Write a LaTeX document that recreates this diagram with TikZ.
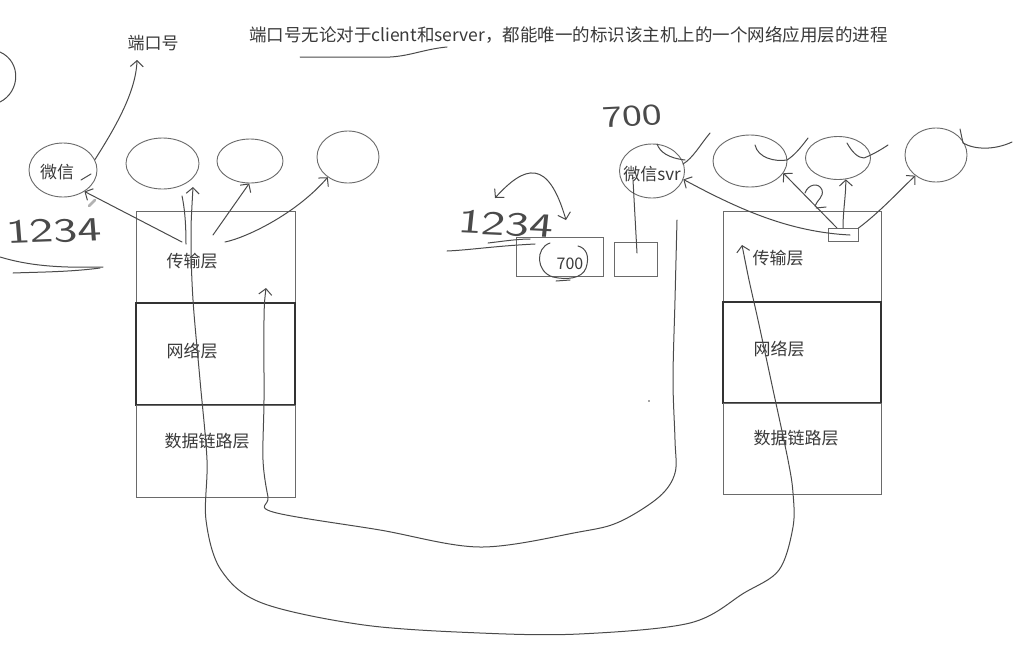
\documentclass[tikz,border=0pt]{standalone}
\usepackage{fontspec}
\setmainfont{Noto Sans CJK SC}
\usetikzlibrary{shapes.geometric,arrows.meta}
\definecolor{txtc}{HTML}{3A3A3A}
\definecolor{linec}{HTML}{4A4A4A}
\definecolor{boxc}{HTML}{6A6A6A}
\definecolor{darkc}{HTML}{333333}
\tikzset{barb/.tip={Straight Barb[length=6pt,width=13pt]}}
\begin{document}
\begin{tikzpicture}[x=1pt,y=-1pt,
  txt/.style={font=\fontsize{17}{20}\selectfont, text=txtc, inner sep=0pt},
  layer/.style={draw=boxc, line width=0.9pt, minimum width=159pt, inner sep=0pt},
  proc/.style={ellipse, draw=boxc, line width=0.9pt, inner sep=0pt},
  hand/.style={draw=linec, line width=1pt, line cap=round, line join=round},
  harrow/.style={hand, -{barb}},
  digits/.style={font=\sffamily\fontsize{34}{34}\selectfont, text=linec, inner sep=0pt}]

\useasboundingbox (0,0) rectangle (1014,659);
\fill[white] (0,0) rectangle (1014,659);

% ---- title ----
\node[txt, font=\fontsize{17.5}{20}\selectfont] (title) at (568.5,35) {端口号无论对于client和server，都能唯一的标识该主机上的一个网络应用层的进程};
\coordinate (ul1) at (300,57);
\coordinate (ul2) at (447,47);
\draw[hand] (ul1) -- (390,57) .. controls (410,56) and (425,49) .. (ul2);

% ---- left host ----
\node[layer, minimum height=92pt] (lT) at (215.5,257) {};
\node[layer, minimum height=102pt, draw=darkc, line width=1.1pt] (lN) at (215.5,354) {};
\node[layer, minimum height=92pt] (lD) at (215.5,451) {};
\node[txt] (lTl) at (192,261) {传输层};
\node[txt] (lNl) at (192,351) {网络层};
\node[txt] (lDl) at (207,441) {数据链路层};

\node[proc, minimum width=68pt, minimum height=54pt] (wx) at (63,170) {};
\node[txt] (wxl) at (57,172) {微信};
\node[proc, minimum width=73pt, minimum height=51pt] (e2) at (162.5,163.5) {};
\node[proc, minimum width=66pt, minimum height=44pt] (e3) at (250,161) {};
\node[proc, minimum width=62pt, minimum height=52pt] (e4) at (348,157) {};

\node[txt] (port) at (153,43) {端口号};
\coordinate (portTip) at (137,60);
\draw[harrow] (wx.18) .. controls (115,128) and (136,92) .. (portTip);
\draw[hand] (81,180) -- (91,174);
\draw[draw=gray!60, line width=2.5pt, line cap=round] (89,206) -- (95,200);

% left transport -> processes
\coordinate (ls1) at (182,242);
\coordinate (ls2) at (186,244);
\coordinate (ls3) at (213,235);
\coordinate (ls4) at (225,242);
\draw[harrow] (ls1) -- (wx.-45);
\draw[hand] (ls2) .. controls (186,220) and (184,205) .. (182,196);
\draw[harrow] (ls3) -- (e3.-92);
\draw[harrow] (ls4) .. controls (245,238) and (295,215) .. (e4.-135);

% left handwritten 1234
\node[digits, xscale=1.5, rotate=3] (n1234a) at (54,231) {1234};
\draw[hand] (0,257) .. controls (30,266) and (60,268) .. (103,267);
\draw[hand] (13,273) .. controls (40,272) and (70,272) .. (100,268);
\draw[hand] (0,52) .. controls (22,62) and (20,92) .. (0,102);

% ---- middle ----
\node[draw=boxc, line width=0.9pt, minimum width=87pt, minimum height=39pt, inner sep=0pt] (b1) at (559.5,256.5) {};
\node[txt, font=\fontsize{16}{18}\selectfont] (b1l) at (570,264) {700};
\node[draw=boxc, line width=0.9pt, minimum width=43pt, minimum height=34pt, inner sep=0pt] (b2) at (635.5,259) {};
\draw[hand] (550,243) .. controls (535,248) and (536,272) .. (553,277) .. controls (566,280) and (582,279) .. (586,268) .. controls (590,256) and (586,248) .. (578,246);
\draw[hand] (556,281) -- (570,280);
\node[digits, xscale=1.5, rotate=-4] (n1234b) at (506,224) {1234};
\draw[hand, {barb}-{barb}] (495,198) .. controls (525,165) and (548,158) .. (566,220);
\draw[hand] (447,251) .. controls (470,250) and (495,246) .. (535,244);
\draw[hand] (488,243) .. controls (505,241) and (518,239) .. (530,239);
\node[digits, font=\sffamily\fontsize{30}{30}\selectfont, xscale=1.4, rotate=4] (n700) at (632,116) {700};
\fill[linec] (649,401) circle (0.8pt);

% ---- right host ----
\node[layer, minimum width=158pt, minimum height=91pt] (rT) at (802,256.5) {};
\node[layer, minimum width=158pt, minimum height=101pt, draw=darkc, line width=1.1pt] (rN) at (802,352.5) {};
\node[layer, minimum width=158pt, minimum height=91pt] (rD) at (802,448.5) {};
\node[txt] (rTl) at (778,258) {传输层};
\node[txt] (rNl) at (779,349) {网络层};
\node[txt] (rDl) at (796,438) {数据链路层};

\node[proc, minimum width=65pt, minimum height=54pt] (svr) at (652,171) {};
\node[txt] (svrl) at (652,174) {微信svr};
\node[proc, minimum width=74pt, minimum height=52pt] (r2) at (750,161) {};
\node[proc, minimum width=65pt, minimum height=43pt] (r3) at (838,158) {};
\node[proc, minimum width=62pt, minimum height=54pt] (r4) at (936,155) {};
\node[draw=boxc, line width=0.9pt, minimum width=30pt, minimum height=13pt, inner sep=0pt] (rs) at (843,235) {};

\coordinate (sv1) at (633,180);
\coordinate (sv2) at (637,253);
\draw[hand] (sv1) -- (sv2);

\draw[harrow] ([xshift=-6pt]rs.north) -- (r2.-20);
\draw[harrow] (rs.north) .. controls (843,210) and (846,195) .. (r3.-70);
\draw[harrow] (rs.north east) .. controls (880,212) and (900,190) .. (r4.-135);
\draw[harrow] ([xshift=7pt]rs.center) .. controls (790,232) and (740,210) .. (svr.-15);
% question mark
\draw[hand] (805,193) .. controls (808,184) and (819,182) .. (822,190) .. controls (824,197) and (817,200) .. (815,206);
\draw[hand] (816,208) -- (826,207);
% scribbles
\draw[hand] (755,145) .. controls (758,158) and (775,162) .. (787,160) .. controls (795,155) and (802,146) .. (808,138);
\draw[hand] (847,143) .. controls (852,152) and (858,158) .. (864,158) .. controls (874,154) and (882,149) .. (888,145);
\draw[hand] (960,129) -- (963,143) .. controls (975,150) and (995,150) .. (1012,142);
\draw[hand] (710,133) .. controls (700,145) and (693,158) .. (683,164);
\draw[hand] (657,144) .. controls (660,152) and (668,158) .. (685,160);

% ---- big loops ----
\draw[hand, {barb}-{barb}] plot[smooth, tension=0.55] coordinates {
  (193,187) (191,240) (193,300) (200,380) (207,460) (206,520) (221,570) (262,603)
  (364,625) (480,633) (579,634) (690,623) (744,593) (779,570) (793,527) (793,493)
  (788,460) (772,385) (758,320) (749,280) (742,245)};
\draw[hand, {barb}-] plot[smooth, tension=0.55] coordinates {
  (266,288) (264,320) (264,400) (263,460) (268,497) (273,512) (380,530) (480,547)
  (579,532) (619,522) (659,497) (675,473) (675,440) (673,380) (675,300) (677,220)};

\end{tikzpicture}
\end{document}
